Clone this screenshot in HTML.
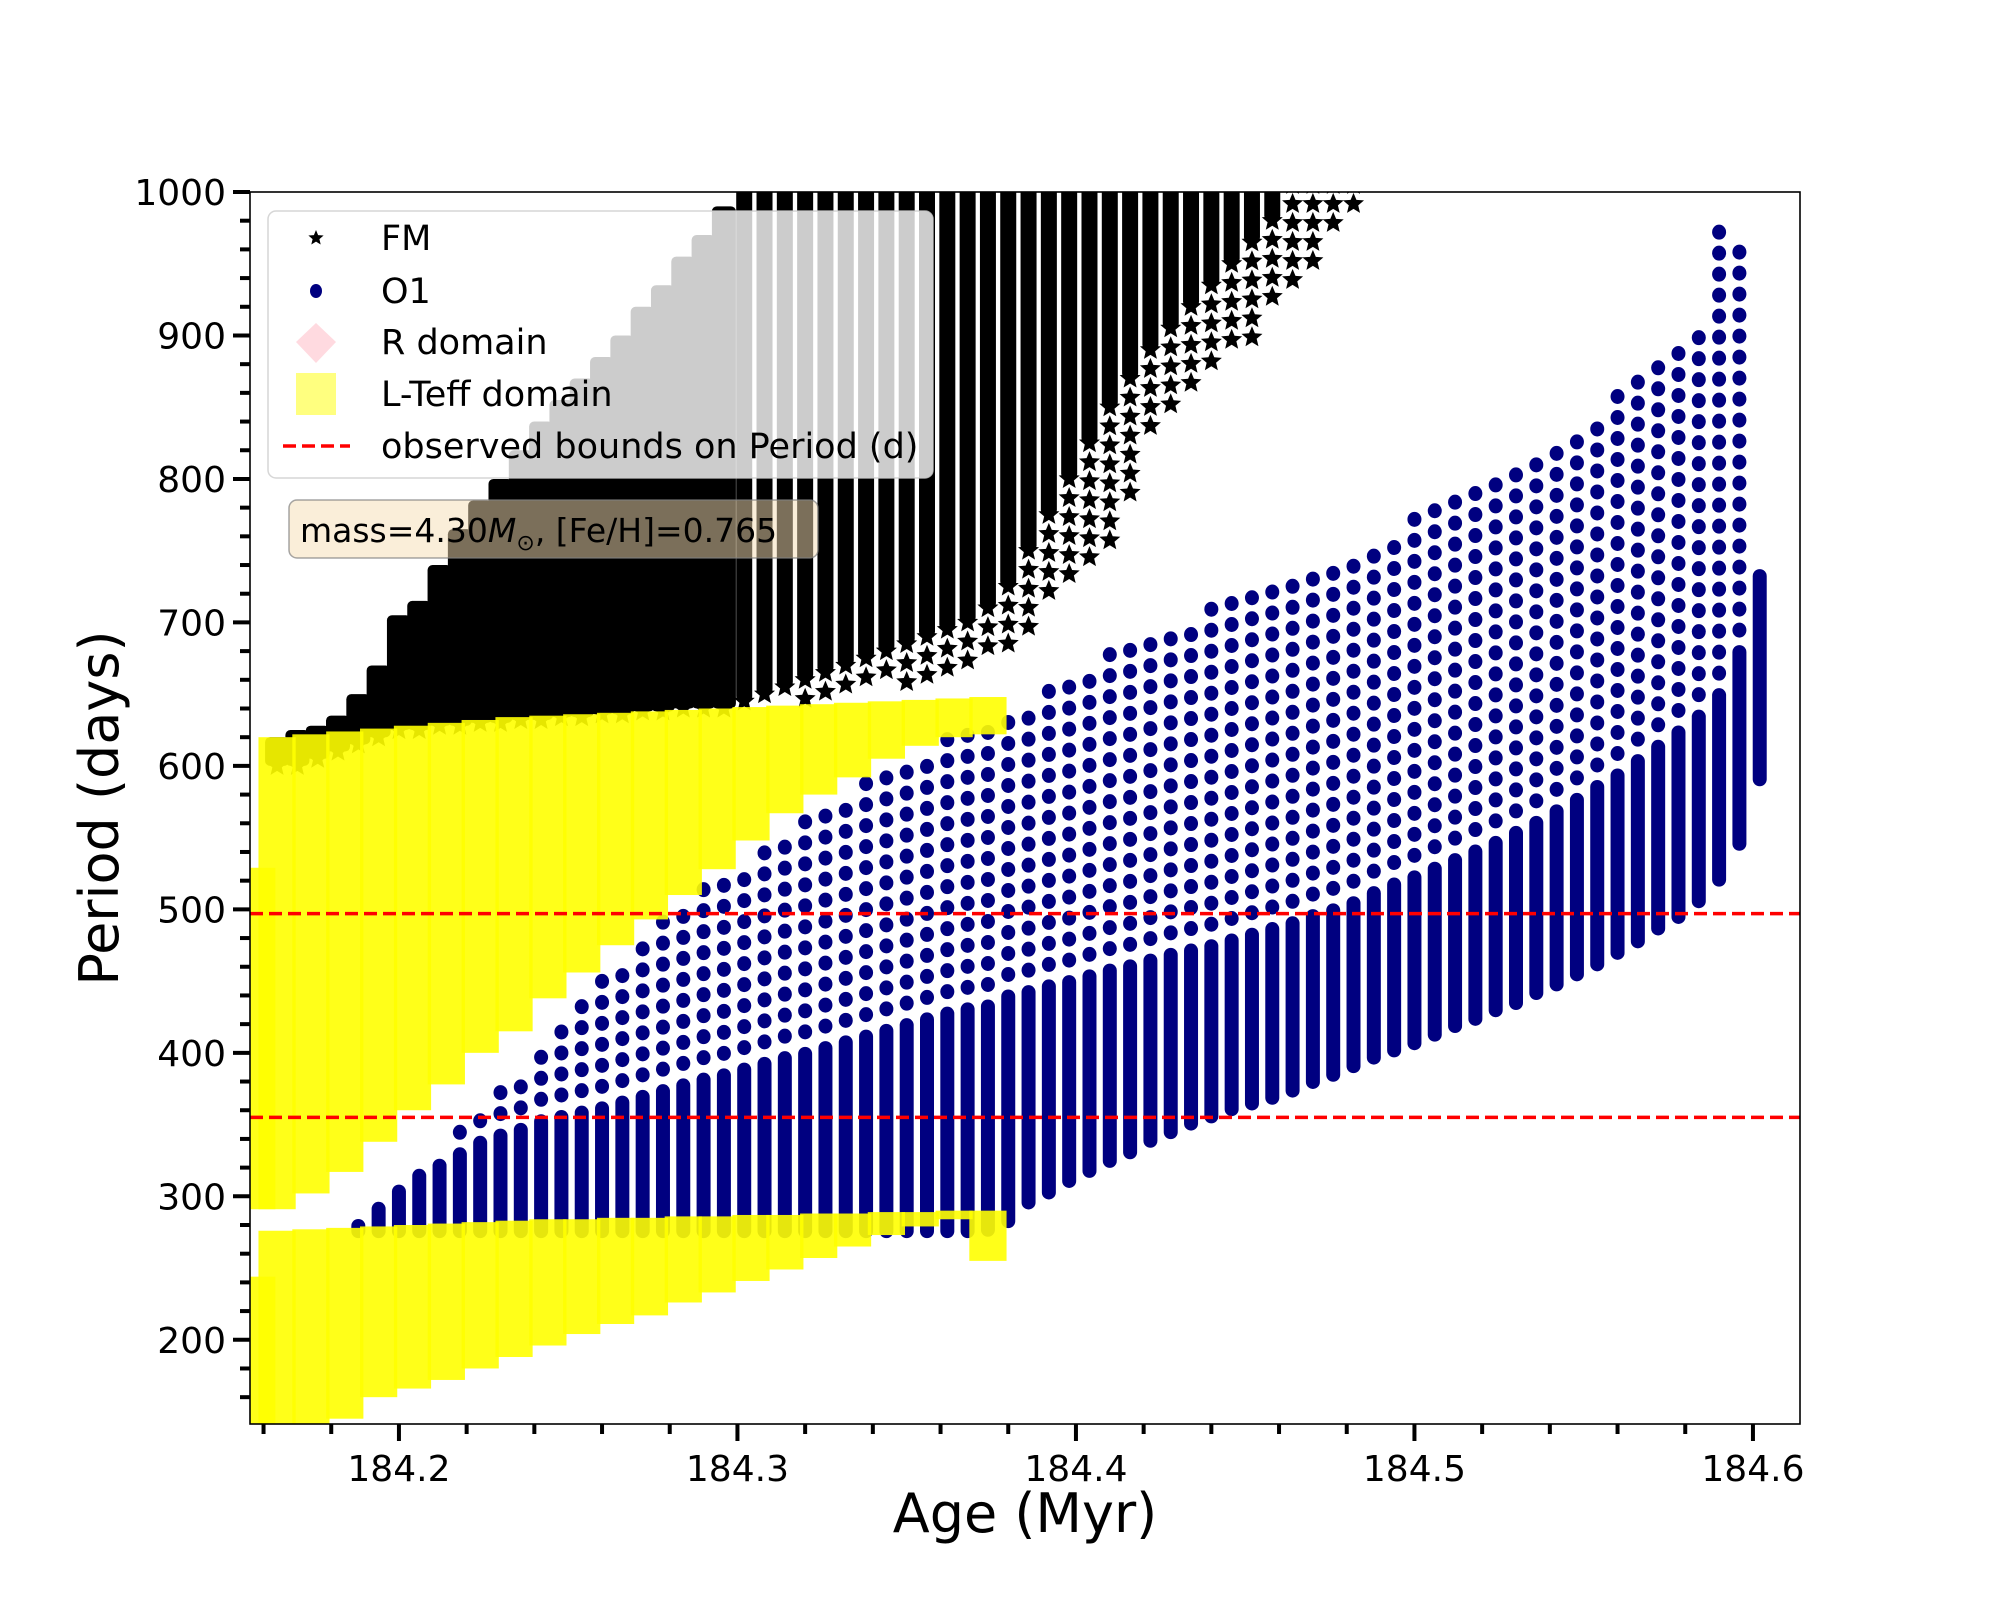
<!DOCTYPE html>
<html><head><meta charset="utf-8"><style>
html,body{margin:0;padding:0;background:#fff;}
svg{display:block;font-family:"DejaVu Sans","Liberation Sans",sans-serif;}
</style></head><body>
<svg id="chart" width="2000" height="1600" viewBox="0 0 2000 1600" xmlns="http://www.w3.org/2000/svg">
<defs>
<clipPath id="plotclip"><rect x="250" y="192" width="1550" height="1232"/></clipPath>
<path id="star" d="M0,-8 L2.1,-2.9 L7.6,-2.5 L3.4,1.1 L4.7,6.5 L0,3.6 L-4.7,6.5 L-3.4,1.1 L-7.6,-2.5 L-2.1,-2.9 Z"/>
<path id="bigstar" d="M0,-11 L2.9,-4 L10.5,-3.4 L4.7,1.5 L6.5,9 L0,5 L-6.5,9 L-4.7,1.5 L-10.5,-3.4 L-2.9,-4 Z"/>
</defs>
<rect x="0" y="0" width="2000" height="1600" fill="#fff"/>
<g id="plot" clip-path="url(#plotclip)"></g>
<rect x="250" y="192" width="1550" height="1232" fill="none" stroke="#000" stroke-width="1.6"/>
<g id="axes"></g>
<text x="1025" y="1532" font-size="54" text-anchor="middle">Age (Myr)</text>
<text transform="translate(118,808) rotate(-90)" font-size="54" text-anchor="middle">Period (days)</text>
<g>
<rect x="268" y="211" width="665" height="267" rx="8" fill="rgba(255,255,255,0.8)" stroke="rgba(204,204,204,0.8)" stroke-width="1.5"/>
<use href="#star" x="316" y="238" fill="#000"/>
<text x="381" y="250" font-size="35">FM</text>
<ellipse cx="316" cy="291" rx="6" ry="7" fill="#000080"/>
<text x="381" y="303" font-size="35">O1</text>
<polygon points="316,323 336,342 316,363 296,342" fill="rgba(255,182,193,0.5)"/>
<text x="381" y="354" font-size="35">R domain</text>
<rect x="296" y="373" width="40" height="42" fill="rgba(255,255,0,0.5)"/>
<text x="381" y="406" font-size="35">L-Teff domain</text>
<line x1="283" y1="446" x2="350" y2="446" stroke="red" stroke-width="3.5" stroke-dasharray="13,6"/>
<text x="381" y="458" font-size="35">observed bounds on Period (d)</text>
</g>
<g>
<rect x="289" y="500" width="529" height="58" rx="8" fill="rgba(245,222,179,0.5)" stroke="rgba(128,128,128,0.7)" stroke-width="1.5"/>
<text x="300" y="542" font-size="33">mass=4.30<tspan font-style="italic">M</tspan><tspan font-size="22" dy="8">⊙</tspan><tspan dy="-8">, [Fe/H]=0.765</tspan></text>
</g>
</svg>
<script>
// ---- data ----
const xTicks = [184.2, 184.3, 184.4, 184.5, 184.6];
const xTickLabels = ["184.2", "184.3", "184.4", "184.5", "184.6"];
const yTicks = [200, 300, 400, 500, 600, 700, 800, 900, 1000];
const yTickLabels = ["200", "300", "400", "500", "600", "700", "800", "900", "1000"];
const boundLow = 355;
const boundHigh = 497;

const fmAge = [184.164,184.170,184.176,184.182,184.188,184.194,184.200,184.206,184.212,184.218,184.224,184.230,184.236,184.242,184.248,184.254,184.260,184.266,184.272,184.278,184.284,184.290,184.296,184.302,184.308,184.314,184.320,184.326,184.332,184.338,184.344,184.350,184.356,184.362,184.368,184.374,184.380,184.386,184.392,184.398,184.404,184.410,184.416,184.422,184.428,184.434,184.440,184.446,184.452,184.458,184.464,184.470,184.476,184.482];
const fmLo = [600,600,605,610,615,620,625,625,628,628,630,630,632,632,634,634,636,636,638,638,640,640,640,642,642,644,646,648,650,652,655,658,662,664,668,672,680,695,712,722,735,755,785,825,840,855,872,885,895,920,935,950,975,990];
const fmDense = [600,600,605,610,615,620,625,625,628,628,630,630,632,632,634,634,636,636,638,638,640,640,640,645,650,655,660,665,670,675,680,685,690,695,700,710,725,750,775,800,825,850,870,890,905,920,935,950,965,980,1005,1005,1005,1005];
const fmHi = [620,625,628,635,650,670,705,715,740,765,785,800,820,840,855,870,885,900,920,935,955,970,990,1005,1005,1005,1005,1005,1005,1005,1005,1005,1005,1005,1005,1005,1005,1005,1005,1005,1005,1005,1005,1005,1005,1005,1005,1005,1005,1005,1005,1005,1005,1005];

const o1Age = [184.188,184.194,184.200,184.206,184.212,184.218,184.224,184.230,184.236,184.242,184.248,184.254,184.260,184.266,184.272,184.278,184.284,184.290,184.296,184.302,184.308,184.314,184.320,184.326,184.332,184.338,184.344,184.350,184.356,184.362,184.368,184.374,184.380,184.386,184.392,184.398,184.404,184.410,184.416,184.422,184.428,184.434,184.440,184.446,184.452,184.458,184.464,184.470,184.476,184.482,184.488,184.494,184.500,184.506,184.512,184.518,184.524,184.530,184.536,184.542,184.548,184.554,184.560,184.566,184.572,184.578,184.584,184.590,184.596,184.602];
const o1Lo = [275,275,275,275,275,275,275,275,275,275,275,275,275,275,275,275,275,275,275,275,275,275,275,275,275,275,275,275,275,275,275,276,282,295,302,310,317,324,330,338,344,350,355,360,364,368,373,379,384,390,396,401,406,412,418,423,429,434,441,447,454,461,469,477,486,494,505,520,545,590];
const o1Dense = [280,292,304,315,322,330,338,343,347,353,356,359,362,366,370,374,378,382,385,389,393,397,400,404,408,412,416,420,424,428,431,433,440,443,447,450,454,458,461,465,469,472,475,479,483,487,491,496,500,505,512,518,523,529,535,541,547,554,561,569,577,586,594,604,614,624,635,650,680,733];
const o1Hi = [280,292,304,325,335,350,360,372,386,405,420,435,453,467,482,495,506,518,526,535,542,553,564,573,582,590,598,604,610,618,625,630,640,645,654,660,670,678,685,691,697,704,710,716,722,727,733,739,744,750,758,765,772,780,787,795,803,812,820,828,838,848,858,868,880,893,905,975,960,733];

const ltAge = [184.158,184.164,184.174,184.184,184.194,184.204,184.214,184.224,184.234,184.244,184.254,184.264,184.274,184.284,184.294,184.304,184.314,184.324,184.334,184.344,184.354,184.364,184.374];
const ltUpLo = [291,291,302,317,338,360,378,400,415,438,456,475,493,510,528,548,567,580,592,605,614,620,622];
const ltUpHi = [529,620,622,624,626,628,630,632,634,635,636,637,638,639,640,641,642,643,644,645,646,647,648];
const ltLoLo = [141,141,141,145,160,166,172,180,188,196,204,211,217,226,233,241,249,257,265,273,279,284,255];
const ltLoHi = [244,276,277,278,279,280,281,282,283,284,284,285,285,286,286,287,287,288,288,289,289,290,290];

// ---- scales ----
const X0 = 250, X1 = 1800, Y0 = 192, Y1 = 1424;
const AMIN = 184.156, AMAX = 184.6139, PMIN = 141.3, PMAX = 1000;
function xs(a){ return X0 + (a - AMIN) / (AMAX - AMIN) * (X1 - X0); }
function ys(p){ return Y1 - (p - PMIN) / (PMAX - PMIN) * (Y1 - Y0); }

const NS = "http://www.w3.org/2000/svg";
const plot = document.getElementById("plot");
const axes = document.getElementById("axes");
function mk(tag, attrs, parent){
  const e = document.createElementNS(NS, tag);
  for (const k in attrs) e.setAttribute(k, attrs[k]);
  parent.appendChild(e);
  return e;
}

// ---- FM series ----
const gFM = mk("g", {}, plot);


for (let i = 0; i < fmAge.length; i++){
  const cx = xs(fmAge[i]);
  const w = i <= 22 ? 24 : 16;
  const yTop = ys(fmHi[i]), yD = ys(fmDense[i]);
  if (yD - yTop > 0){
    const r = mk("rect", {x: cx - w/2, y: yTop, width: w, height: yD - yTop, rx: 5, fill: "#000"}, gFM);
    
    
  }
  const yL = ys(fmLo[i]);
  for (let y = yD; y <= yL + 0.5; y += 19){
    const s = mk("use", {href: "#bigstar", x: cx, y: y, fill: "#000"}, gFM);
    
    
  }
}

// ---- O1 series ----
const gO1 = mk("g", {}, plot);


for (let i = 0; i < o1Age.length; i++){
  const cx = xs(o1Age[i]);
  const yD = ys(o1Dense[i]), yL = ys(o1Lo[i]);
  const r = mk("rect", {x: cx - 7, y: yD - 6, width: 14, height: (yL - yD) + 12, rx: 7, fill: "#000080"}, gO1);
  
  
  const yH = ys(o1Hi[i]);
  for (let y = yD - 21; y >= yH - 0.5; y -= 21){
    const c = mk("ellipse", {cx: cx, cy: y, rx: 7, ry: 7.5, fill: "#000080"}, gO1);
    
    
  }
}

// ---- L-Teff domain ----
const gLT = mk("g", {}, plot);


for (let i = 0; i < ltAge.length; i++){
  const xl = xs(ltAge[i] - 0.0055), xr = xs(ltAge[i] + 0.0055);
  const a = mk("rect", {x: xl, y: ys(ltUpHi[i]), width: xr - xl, height: ys(ltUpLo[i]) - ys(ltUpHi[i]), fill: "#ffff00", "fill-opacity": 0.9}, gLT);
  
  
  const b = mk("rect", {x: xl, y: ys(ltLoHi[i]), width: xr - xl, height: ys(ltLoLo[i]) - ys(ltLoHi[i]), fill: "#ffff00", "fill-opacity": 0.9}, gLT);
  
  
}

// ---- bounds ----
const lb = mk("line", {x1: X0, x2: X1, y1: ys(boundLow), y2: ys(boundLow), stroke: "red", "stroke-width": 3.5, "stroke-dasharray": "13,6"}, plot);


const ub = mk("line", {x1: X0, x2: X1, y1: ys(boundHigh), y2: ys(boundHigh), stroke: "red", "stroke-width": 3.5, "stroke-dasharray": "13,6"}, plot);



// ---- ticks ----
for (let i = 0; i < xTicks.length; i++){
  const x = xs(xTicks[i]);
  const t = mk("line", {x1: x, x2: x, y1: Y1, y2: Y1 + 17, stroke: "#000", "stroke-width": 4}, axes);
  
  
  const l = mk("text", {x: x, y: Y1 + 57, "font-size": 36, "text-anchor": "middle"}, axes);
  l.textContent = xTickLabels[i];
  
  
}
for (let k = 0; k <= 23; k++){
  const a = 184.16 + k * 0.02;
  if (a > AMAX) continue;
  if (Math.abs((a * 10) - Math.round(a * 10)) < 1e-6) continue;
  const x = xs(a);
  const t = mk("line", {x1: x, x2: x, y1: Y1, y2: Y1 + 10, stroke: "#000", "stroke-width": 4}, axes);
  
  
}
for (let i = 0; i < yTicks.length; i++){
  const y = ys(yTicks[i]);
  const t = mk("line", {x1: X0 - 17, x2: X0, y1: y, y2: y, stroke: "#000", "stroke-width": 4}, axes);
  
  
  const l = mk("text", {x: 226, y: y + 13, "font-size": 36, "text-anchor": "end"}, axes);
  l.textContent = yTickLabels[i];
  
  
}
for (let p = 160; p <= 1000; p += 20){
  if (p % 100 === 0) continue;
  const y = ys(p);
  const t = mk("line", {x1: X0 - 10, x2: X0, y1: y, y2: y, stroke: "#000", "stroke-width": 4}, axes);
  
  
}
</script>
</body></html>
